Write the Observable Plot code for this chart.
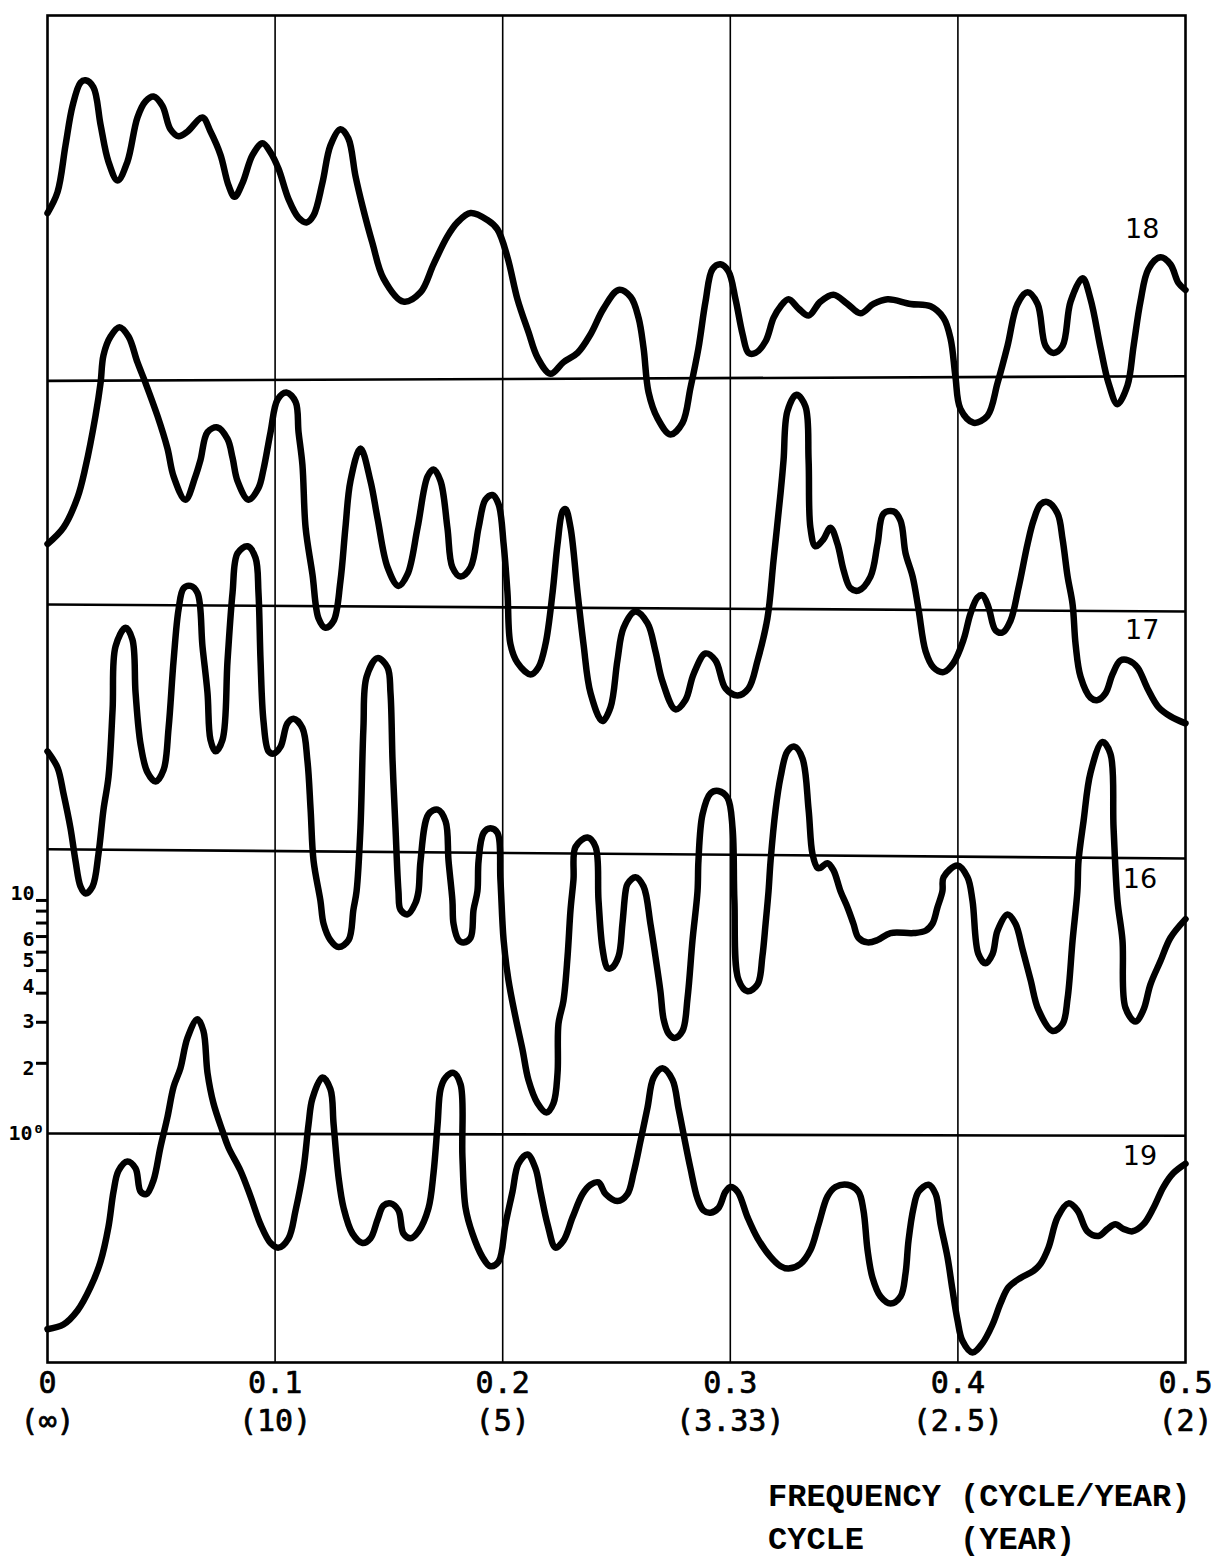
<!DOCTYPE html>
<html><head><meta charset="utf-8">
<script src="https://cdn.jsdelivr.net/npm/d3@7"></script>
<script src="https://cdn.jsdelivr.net/npm/@observablehq/plot@0.6"></script>
<style>
body{margin:0;background:#fff;}
#wrap{position:relative;width:1222px;height:1557px;background:#fff;}
#cap{position:absolute;left:768px;top:1476px;font:bold 32px "Liberation Mono",monospace;line-height:43px;white-space:pre;color:#000;}
</style></head><body><div id="wrap"><div id="chart"></div><div id="cap"></div></div>
<script>
// ---- labels / ticks ----
const captionLines = ["FREQUENCY (CYCLE/YEAR)", "CYCLE     (YEAR)"];
const xTicks = [0, 0.1, 0.2, 0.3, 0.4, 0.5];
const freqLabels = ["0", "0.1", "0.2", "0.3", "0.4", "0.5"];
const periodLabels = ["(∞)", "(10)", "(5)", "(3.33)", "(2.5)", "(2)"];
const gridFreq = [0.1, 0.2, 0.3, 0.4];
const yTickValues = [2, 3, 4, 5, 6, 7, 8, 9, 10];
const yLabelText = ["2", "3", "4", "5", "6", "10"];
const yLabelLog = [0.28, 0.48, 0.63, 0.74, 0.83, 1.03]; // where the hand lettering sits
const unitValue = [1];
const unitLabel = "10⁰";

// ---- series (frequency, log10 spectrum in decades, stacked) ----
const seriesNames = ["18", "17", "16", "19"];
const baselineLeft = [3.23, 2.27, 1.22, 0];
const baselineRight = [3.25, 2.24, 1.18, -0.01];
const labelFreq = [0.481, 0.481, 0.480, 0.480];
const labelLog = [3.88, 2.16, 1.09, -0.10];

const s18 = [[0,3.95],[0.0044,4.04],[0.0079,4.24],[0.011,4.41],[0.0145,4.51],[0.0167,4.52],[0.0202,4.49],[0.0233,4.33],[0.0268,4.17],[0.0308,4.09],[0.0351,4.17],[0.0395,4.36],[0.0431,4.43],[0.0466,4.45],[0.0505,4.41],[0.054,4.31],[0.0576,4.28],[0.0615,4.30],[0.0681,4.36],[0.0716,4.30],[0.076,4.20],[0.0795,4.07],[0.0822,4.02],[0.0857,4.08],[0.0901,4.20],[0.0945,4.25],[0.098,4.21],[0.1015,4.14],[0.1059,4.01],[0.1103,3.93],[0.1138,3.91],[0.1169,3.94],[0.1208,4.08],[0.1243,4.24],[0.1287,4.31],[0.1322,4.27],[0.1353,4.11],[0.1384,3.98],[0.1428,3.82],[0.1476,3.67],[0.1564,3.57],[0.1639,3.61],[0.1696,3.73],[0.1757,3.85],[0.1801,3.91],[0.1859,3.95],[0.1933,3.92],[0.1977,3.88],[0.2021,3.76],[0.2065,3.58],[0.2113,3.44],[0.2153,3.33],[0.221,3.26],[0.2267,3.31],[0.2329,3.35],[0.2386,3.43],[0.2443,3.54],[0.2509,3.62],[0.2562,3.59],[0.2597,3.50],[0.2619,3.37],[0.2641,3.18],[0.268,3.07],[0.2737,3.00],[0.279,3.05],[0.2825,3.20],[0.286,3.37],[0.2891,3.57],[0.2922,3.71],[0.2957,3.73],[0.2992,3.70],[0.3023,3.58],[0.3054,3.43],[0.308,3.35],[0.3111,3.35],[0.3155,3.40],[0.319,3.50],[0.3221,3.55],[0.3256,3.58],[0.33,3.54],[0.3344,3.51],[0.3396,3.57],[0.3453,3.60],[0.3515,3.56],[0.3572,3.52],[0.3629,3.56],[0.3691,3.58],[0.3792,3.56],[0.388,3.55],[0.3937,3.50],[0.3968,3.41],[0.3989,3.25],[0.4011,3.11],[0.4069,3.05],[0.413,3.08],[0.4174,3.22],[0.4218,3.38],[0.4262,3.56],[0.4306,3.61],[0.435,3.56],[0.4385,3.38],[0.442,3.35],[0.446,3.38],[0.4495,3.57],[0.4548,3.67],[0.4583,3.58],[0.4627,3.37],[0.4662,3.22],[0.4701,3.13],[0.4745,3.21],[0.4772,3.38],[0.4802,3.57],[0.4837,3.71],[0.489,3.76],[0.4934,3.73],[0.4969,3.65],[0.5,3.62]];

const s17 = [[0,2.53],[0.007,2.60],[0.0132,2.73],[0.0167,2.86],[0.0211,3.08],[0.0233,3.22],[0.0246,3.34],[0.0277,3.42],[0.0316,3.46],[0.0356,3.42],[0.0395,3.31],[0.0431,3.22],[0.0483,3.08],[0.0527,2.94],[0.0554,2.82],[0.0606,2.72],[0.065,2.82],[0.0672,2.89],[0.0703,3.01],[0.0747,3.03],[0.0791,2.98],[0.0813,2.90],[0.0835,2.80],[0.0883,2.72],[0.0927,2.77],[0.0949,2.85],[0.098,3.01],[0.1011,3.15],[0.105,3.18],[0.109,3.14],[0.1103,3.01],[0.112,2.87],[0.1134,2.60],[0.1164,2.40],[0.1191,2.21],[0.1221,2.17],[0.1257,2.20],[0.1287,2.37],[0.1309,2.60],[0.1331,2.80],[0.1375,2.94],[0.1419,2.80],[0.145,2.64],[0.1494,2.43],[0.1542,2.35],[0.1582,2.40],[0.1626,2.60],[0.167,2.82],[0.1696,2.85],[0.1727,2.80],[0.1757,2.60],[0.1779,2.43],[0.1815,2.39],[0.1859,2.43],[0.1894,2.60],[0.1924,2.72],[0.1955,2.74],[0.1982,2.70],[0.2004,2.53],[0.2021,2.32],[0.2034,2.10],[0.2065,2.02],[0.2122,1.97],[0.2157,2.00],[0.2188,2.10],[0.2219,2.32],[0.2241,2.53],[0.2263,2.67],[0.2276,2.68],[0.2298,2.60],[0.2329,2.32],[0.2355,2.10],[0.2386,1.89],[0.2438,1.77],[0.2474,1.83],[0.2504,2.03],[0.2531,2.17],[0.2583,2.24],[0.2636,2.19],[0.2671,2.07],[0.2702,1.94],[0.2759,1.82],[0.2803,1.86],[0.2838,1.97],[0.2891,2.06],[0.2935,2.03],[0.2979,1.91],[0.3032,1.88],[0.308,1.91],[0.312,2.03],[0.3163,2.21],[0.319,2.46],[0.3221,2.75],[0.3234,2.89],[0.3251,3.10],[0.3291,3.17],[0.333,3.12],[0.3344,2.89],[0.3352,2.60],[0.3374,2.52],[0.3409,2.55],[0.344,2.60],[0.3471,2.53],[0.3497,2.42],[0.3528,2.34],[0.3563,2.33],[0.3616,2.39],[0.3647,2.53],[0.3673,2.66],[0.3717,2.67],[0.3748,2.63],[0.377,2.49],[0.3801,2.39],[0.3827,2.25],[0.3858,2.07],[0.3893,2.00],[0.3937,1.98],[0.3981,2.02],[0.4025,2.12],[0.4055,2.23],[0.4086,2.30],[0.4108,2.31],[0.4134,2.26],[0.4165,2.16],[0.4196,2.15],[0.4231,2.20],[0.4266,2.34],[0.4306,2.53],[0.4332,2.63],[0.4363,2.70],[0.4394,2.71],[0.4438,2.66],[0.446,2.55],[0.4482,2.39],[0.4504,2.27],[0.4517,2.10],[0.4539,1.96],[0.4583,1.87],[0.4613,1.86],[0.4649,1.89],[0.4679,1.97],[0.4714,2.03],[0.475,2.03],[0.4789,2.00],[0.4833,1.91],[0.4881,1.83],[0.4934,1.79],[0.5,1.76]];

const s16 = [[0,1.64],[0.0044,1.57],[0.007,1.46],[0.0101,1.31],[0.0123,1.17],[0.0145,1.06],[0.0167,1.03],[0.0198,1.06],[0.0224,1.20],[0.0246,1.39],[0.0268,1.53],[0.0286,1.82],[0.0299,2.09],[0.0343,2.17],[0.0373,2.12],[0.0387,1.89],[0.0409,1.67],[0.0439,1.55],[0.0475,1.51],[0.051,1.56],[0.0532,1.74],[0.0554,2.03],[0.0576,2.25],[0.0598,2.34],[0.0628,2.35],[0.0659,2.32],[0.0681,2.09],[0.0703,1.89],[0.0716,1.69],[0.0738,1.64],[0.0769,1.69],[0.0791,2.03],[0.0813,2.32],[0.0835,2.49],[0.0879,2.52],[0.0914,2.47],[0.0927,2.32],[0.0936,2.03],[0.0949,1.77],[0.0971,1.64],[0.0993,1.63],[0.1024,1.66],[0.1054,1.76],[0.1081,1.78],[0.112,1.74],[0.1142,1.60],[0.1156,1.39],[0.1169,1.17],[0.1199,1.00],[0.1213,0.90],[0.1243,0.83],[0.1279,0.80],[0.1323,0.83],[0.1344,0.96],[0.1358,1.04],[0.1375,1.31],[0.1388,1.74],[0.1402,1.96],[0.145,2.04],[0.1494,2.00],[0.1507,1.89],[0.1516,1.60],[0.1529,1.31],[0.1542,1.04],[0.1551,0.96],[0.1582,0.94],[0.1617,0.99],[0.163,1.04],[0.1639,1.17],[0.1674,1.37],[0.1714,1.39],[0.1749,1.34],[0.1762,1.17],[0.1779,1.00],[0.1784,0.90],[0.1806,0.83],[0.1828,0.82],[0.1859,0.84],[0.1872,0.96],[0.1889,1.04],[0.1894,1.17],[0.1916,1.29],[0.1946,1.31],[0.1977,1.29],[0.199,1.09],[0.2004,0.83],[0.2025,0.66],[0.2056,0.50],[0.2087,0.36],[0.2113,0.23],[0.2153,0.13],[0.2192,0.09],[0.2223,0.13],[0.2241,0.26],[0.2245,0.47],[0.2267,0.57],[0.2285,0.76],[0.2298,0.96],[0.2311,1.09],[0.232,1.23],[0.2373,1.27],[0.2408,1.23],[0.2421,1.00],[0.2439,0.79],[0.246,0.71],[0.2478,0.71],[0.2509,0.76],[0.2526,0.90],[0.254,1.04],[0.2548,1.07],[0.2583,1.10],[0.2619,1.06],[0.2649,0.90],[0.2671,0.76],[0.2693,0.61],[0.2707,0.49],[0.2728,0.43],[0.2755,0.41],[0.279,0.44],[0.2812,0.58],[0.2834,0.83],[0.2856,1.04],[0.286,1.17],[0.2878,1.37],[0.2913,1.46],[0.2948,1.47],[0.2988,1.44],[0.301,1.31],[0.3018,1.00],[0.3036,0.66],[0.3076,0.61],[0.312,0.64],[0.3141,0.76],[0.3155,0.90],[0.3168,1.04],[0.3177,1.17],[0.3199,1.39],[0.3221,1.53],[0.3251,1.64],[0.3282,1.66],[0.3317,1.61],[0.3344,1.39],[0.3361,1.20],[0.3383,1.14],[0.3396,1.14],[0.3427,1.16],[0.3453,1.13],[0.3484,1.04],[0.3515,0.97],[0.3541,0.90],[0.3563,0.84],[0.3603,0.82],[0.3647,0.83],[0.3704,0.86],[0.3805,0.86],[0.3858,0.87],[0.3888,0.90],[0.391,0.97],[0.3932,1.04],[0.3937,1.10],[0.3998,1.15],[0.4042,1.10],[0.4064,1.00],[0.409,0.77],[0.4121,0.73],[0.4152,0.77],[0.4174,0.87],[0.4218,0.94],[0.4253,0.90],[0.4284,0.79],[0.4319,0.66],[0.4354,0.53],[0.4416,0.44],[0.446,0.47],[0.4482,0.58],[0.4504,0.83],[0.4525,1.04],[0.453,1.17],[0.4552,1.34],[0.4583,1.55],[0.4635,1.68],[0.467,1.63],[0.4684,1.31],[0.4701,1.00],[0.4723,0.83],[0.4736,0.54],[0.478,0.48],[0.4815,0.53],[0.4846,0.64],[0.489,0.74],[0.4934,0.84],[0.5,0.92]];

const s19 = [[0,-0.84],[0.007,-0.82],[0.0132,-0.76],[0.0189,-0.66],[0.0233,-0.55],[0.0268,-0.40],[0.029,-0.25],[0.0312,-0.16],[0.0351,-0.12],[0.0387,-0.15],[0.0409,-0.25],[0.0435,-0.26],[0.0466,-0.20],[0.0496,-0.06],[0.0527,0.07],[0.0554,0.20],[0.0584,0.28],[0.0615,0.41],[0.0659,0.49],[0.0685,0.44],[0.0703,0.26],[0.0729,0.13],[0.0769,0.01],[0.0795,-0.06],[0.0848,-0.16],[0.0892,-0.27],[0.0936,-0.39],[0.098,-0.47],[0.1015,-0.49],[0.1059,-0.45],[0.109,-0.33],[0.1125,-0.15],[0.1147,0.04],[0.1164,0.15],[0.1208,0.24],[0.1243,0.19],[0.1257,0.04],[0.1279,-0.19],[0.1301,-0.32],[0.134,-0.43],[0.1384,-0.47],[0.1419,-0.45],[0.145,-0.37],[0.1476,-0.31],[0.1507,-0.30],[0.1542,-0.33],[0.1564,-0.43],[0.1595,-0.45],[0.163,-0.42],[0.1674,-0.32],[0.1696,-0.17],[0.1714,0.04],[0.1727,0.19],[0.1749,0.24],[0.1784,0.26],[0.1815,0.21],[0.1823,-0.10],[0.1837,-0.32],[0.1867,-0.43],[0.1911,-0.53],[0.1946,-0.57],[0.1982,-0.55],[0.2012,-0.39],[0.2043,-0.25],[0.2069,-0.13],[0.2109,-0.09],[0.2144,-0.15],[0.2166,-0.25],[0.2197,-0.39],[0.2232,-0.49],[0.2267,-0.46],[0.2307,-0.36],[0.2351,-0.26],[0.2386,-0.22],[0.2421,-0.21],[0.2452,-0.26],[0.2504,-0.29],[0.2548,-0.26],[0.2575,-0.17],[0.2606,-0.03],[0.2636,0.11],[0.2663,0.24],[0.2702,0.28],[0.2746,0.23],[0.2772,0.11],[0.2794,0.00],[0.2825,-0.15],[0.2856,-0.28],[0.2882,-0.33],[0.2913,-0.34],[0.2948,-0.32],[0.2979,-0.25],[0.3001,-0.23],[0.3032,-0.25],[0.3076,-0.36],[0.312,-0.45],[0.3177,-0.53],[0.3221,-0.57],[0.3256,-0.58],[0.3308,-0.56],[0.3352,-0.50],[0.3388,-0.39],[0.3427,-0.27],[0.3462,-0.23],[0.3515,-0.22],[0.3563,-0.25],[0.3585,-0.33],[0.3603,-0.50],[0.3625,-0.62],[0.366,-0.70],[0.3704,-0.73],[0.3748,-0.70],[0.377,-0.60],[0.3783,-0.46],[0.3805,-0.32],[0.3827,-0.25],[0.3871,-0.22],[0.3902,-0.26],[0.3924,-0.39],[0.3954,-0.53],[0.3976,-0.67],[0.3998,-0.80],[0.402,-0.89],[0.4064,-0.94],[0.4108,-0.90],[0.4152,-0.82],[0.4187,-0.73],[0.4222,-0.66],[0.4275,-0.62],[0.4332,-0.59],[0.4363,-0.56],[0.4398,-0.49],[0.4438,-0.36],[0.4486,-0.30],[0.4525,-0.33],[0.4569,-0.42],[0.4618,-0.44],[0.4657,-0.41],[0.4692,-0.39],[0.4728,-0.41],[0.4767,-0.42],[0.4815,-0.39],[0.4859,-0.32],[0.4903,-0.23],[0.4947,-0.17],[0.5,-0.13]];

const curves = [s18, s17, s16, s19];
const rows = curves.flatMap((arr, i) => arr.map(([f, v]) => ({series: seriesNames[i], f, v})));

const labelStyle = {fill: "#000", stroke: "#000", strokeWidth: 0.7, fontFamily: "DejaVu Sans Mono"};

const chart = Plot.plot({
  width: 1222,
  height: 1462,
  marginTop: 15,
  marginLeft: 47,
  marginRight: 37,
  marginBottom: 100,
  style: {background: "#fff", color: "#000"},
  x: {domain: [0, 0.5], axis: null},
  y: {domain: [-0.983, 4.798]},
  marks: [
    Plot.ruleX(gridFreq, {stroke: "#000", strokeWidth: 1.6}),
    Plot.link(seriesNames, {
      x1: () => 0, x2: () => 0.5,
      y1: (d, i) => baselineLeft[i], y2: (d, i) => baselineRight[i],
      stroke: "#000", strokeWidth: 2.6
    }),
    Plot.line(rows, {
      x: "f", y: "v", z: "series", curve: "catmull-rom",
      stroke: "#000", strokeWidth: 6.5, strokeLinejoin: "round", strokeLinecap: "round"
    }),
    Plot.text(seriesNames, {
      x: (d, i) => labelFreq[i], y: (d, i) => labelLog[i], text: d => d,
      fontSize: 27, fontFamily: "DejaVu Sans", fill: "#000"
    }),
    Plot.frame({stroke: "#000", strokeWidth: 2.6}),
    Plot.axisY({
      ticks: yTickValues.map(Math.log10), tickSize: 11, tickFormat: () => "",
      label: null, stroke: "#000", strokeWidth: 3
    }),
    Plot.text(yLabelText, {
      y: (d, i) => yLabelLog[i], text: d => d, frameAnchor: "left",
      textAnchor: "end", dx: -13, fontSize: 20, fontWeight: "bold",
      fontFamily: "DejaVu Sans Mono", fill: "#000"
    }),
    Plot.text(unitValue, {
      y: d => Math.log10(d), text: () => unitLabel, frameAnchor: "left",
      textAnchor: "end", dx: -3, fontSize: 20, fontWeight: "bold",
      fontFamily: "DejaVu Sans Mono", fill: "#000"
    }),
    Plot.text(xTicks, {
      x: d => d, text: (d, i) => freqLabels[i], frameAnchor: "bottom", dy: 30,
      fontSize: 30, ...labelStyle
    }),
    Plot.text(xTicks, {
      x: d => d, text: (d, i) => periodLabels[i], frameAnchor: "bottom", dy: 68,
      fontSize: 30, ...labelStyle
    })
  ]
});
document.getElementById("chart").appendChild(chart);
document.getElementById("cap").textContent = captionLines.join("\n");
</script>
</body></html>
